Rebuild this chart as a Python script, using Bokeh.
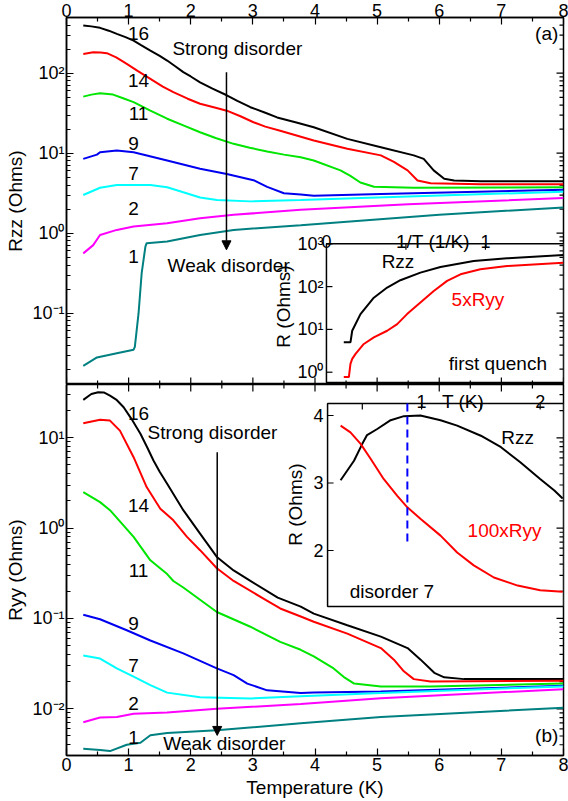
import math
from bokeh.plotting import figure
from bokeh.models import (Range1d, LogScale, LinearScale, FixedTicker, Arrow,
                          NormalHead, BoxAnnotation)
from bokeh.layouts import column
from bokeh.embed import file_html
from bokeh.resources import INLINE
from bokeh.core.properties import value

FONT = "Liberation Sans"

# ---------------- data: panel (a) Rzz ----------------
T16a = [0.27, 0.40, 0.54, 0.68, 0.81, 0.95, 1.08, 1.20, 1.35, 1.50, 1.62, 1.75, 1.88, 2.00, 2.15, 2.35, 2.58, 2.75, 2.96, 3.20, 3.39, 3.70, 3.98, 4.52, 5.06, 5.59, 5.75, 5.91, 6.08, 6.24, 6.67, 8.0]
R16a = [395, 385, 369, 340, 310, 283, 256, 225, 192, 165, 144, 122, 103, 91, 77, 64, 53, 45, 37.6, 32, 28, 24.2, 21.1, 15.1, 11.9, 9.4, 8.5, 6.1, 4.8, 4.57, 4.47, 4.45]
T14a = [0.27, 0.43, 0.55, 0.65, 0.80, 0.97, 1.15, 1.35, 1.55, 1.72, 1.95, 2.15, 2.40, 2.58, 2.80, 3.01, 3.20, 3.44, 3.98, 4.52, 5.06, 5.27, 5.49, 5.65, 5.86, 6.67, 8.0]
R14a = [174, 183, 182, 178, 158, 131, 106, 85, 68, 58, 48, 41.5, 37, 34, 29, 24.4, 21.5, 19.1, 14.4, 11.4, 9.4, 7.8, 6.1, 4.55, 4.2, 4.1, 4.1]
T11a = [0.27, 0.40, 0.54, 0.75, 0.90, 1.08, 1.35, 1.62, 1.90, 2.15, 2.40, 2.69, 2.95, 3.23, 3.50, 3.77, 3.98, 4.41, 4.57, 4.73, 4.95, 5.59, 8.0]
R11a = [51, 54, 56, 54, 49, 43.5, 34, 27, 22, 18.3, 15.5, 13.1, 11.7, 10.5, 9.6, 8.9, 8.1, 6.1, 5.2, 4.3, 3.8, 3.7, 3.75]
T9a = [0.27, 0.49, 0.54, 0.81, 1.08, 1.62, 2.15, 2.58, 3.01, 3.23, 3.50, 3.77, 3.98, 5.06, 8.0]
R9a = [8.5, 9.6, 10.3, 10.8, 10.3, 8.1, 6.4, 5.5, 4.6, 3.8, 3.16, 3.05, 2.94, 3.1, 3.5]
T7a = [0.27, 0.54, 0.81, 1.08, 1.35, 1.62, 1.88, 2.15, 2.42, 2.96, 3.77, 5.0, 8.0]
R7a = [3.0, 3.7, 4.0, 4.0, 4.0, 3.76, 3.25, 2.8, 2.6, 2.5, 2.6, 2.8, 3.3]
T2a = [0.27, 0.43, 0.54, 0.81, 1.08, 1.62, 2.15, 2.69, 3.77, 5.5, 8.0]
R2a = [0.56, 0.71, 0.95, 1.1, 1.21, 1.33, 1.54, 1.7, 1.96, 2.3, 2.75]
T1a = [0.27, 0.49, 0.81, 1.08, 1.10, 1.16, 1.21, 1.27, 1.29, 1.62, 2.15, 2.69, 3.77, 6.0, 8.0]
R1a = [0.022, 0.028, 0.0316, 0.035, 0.038, 0.1, 0.316, 0.68, 0.75, 0.79, 0.95, 1.1, 1.26, 1.7, 2.1]

# ---------------- data: panel (b) Ryy ----------------
T16b = [0.27, 0.40, 0.51, 0.60, 0.70, 0.80, 0.92, 1.05, 1.19, 1.30, 1.40, 1.50, 1.62, 1.88, 2.15, 2.42, 2.69, 2.96, 3.40, 3.77, 3.98, 4.52, 5.06, 5.49, 5.70, 5.92, 6.08, 6.40, 8.0]
R16b = [26.3, 30.5, 31.9, 31.8, 29.3, 26.5, 21.8, 16, 11.1, 7.8, 5.6, 4.2, 3.1, 1.58, 0.87, 0.48, 0.34, 0.26, 0.17, 0.135, 0.113, 0.084, 0.063, 0.047, 0.035, 0.025, 0.0223, 0.0213, 0.0213]
T14b = [0.27, 0.54, 0.70, 0.86, 1.08, 1.29, 1.51, 1.72, 1.94, 2.15, 2.42, 2.69, 3.17, 3.44, 3.77, 3.98, 4.52, 5.06, 5.27, 5.43, 5.59, 5.86, 8.0]
R14b = [14.5, 15.8, 15.5, 12.0, 6.1, 2.85, 1.64, 1.22, 0.80, 0.57, 0.36, 0.26, 0.166, 0.129, 0.105, 0.092, 0.068, 0.047, 0.035, 0.026, 0.0213, 0.020, 0.0205]
T11b = [0.27, 0.54, 0.70, 1.08, 1.35, 1.62, 1.72, 1.88, 2.42, 2.96, 3.44, 3.77, 3.98, 4.30, 4.46, 4.63, 5.06, 5.86, 8.0]
R11b = [2.5, 1.94, 1.58, 0.80, 0.44, 0.31, 0.26, 0.22, 0.118, 0.081, 0.055, 0.045, 0.038, 0.028, 0.0226, 0.019, 0.0176, 0.0176, 0.019]
T9b = [0.27, 0.54, 0.97, 1.35, 1.88, 2.42, 2.69, 2.91, 3.23, 3.77, 3.98, 5.06, 8.0]
R9b = [0.110, 0.098, 0.074, 0.057, 0.041, 0.028, 0.0236, 0.019, 0.016, 0.015, 0.0151, 0.0155, 0.018]
T7b = [0.27, 0.54, 0.81, 1.08, 1.35, 1.62, 2.15, 2.96, 3.77, 5.06, 8.0]
R7b = [0.039, 0.036, 0.028, 0.0227, 0.0183, 0.0151, 0.0134, 0.013, 0.0138, 0.015, 0.0177]
T2b = [0.27, 0.54, 0.81, 1.08, 1.62, 2.42, 3.77, 5.06, 8.0]
R2b = [0.0071, 0.0080, 0.0081, 0.0088, 0.0091, 0.0100, 0.0113, 0.0131, 0.0165]
T1b = [0.27, 0.54, 0.70, 0.97, 1.19, 1.35, 1.62, 2.42, 3.77, 5.06, 8.0]
R1b = [0.0036, 0.0035, 0.0034, 0.0040, 0.0042, 0.0051, 0.0054, 0.0058, 0.0069, 0.0081, 0.0103]

# ---------------- inset (a): first quench vs 1/T ----------------
invT_zz = [0.109, 0.151, 0.162, 0.214, 0.298, 0.382, 0.465, 0.591, 0.717, 0.926, 1.136, 1.49]
Rzz_fq = [5.0, 5.0, 9.3, 22.8, 55, 95, 141, 212, 287, 396, 457, 546]
invT_yy = [0.109, 0.141, 0.151, 0.162, 0.183, 0.235, 0.298, 0.382, 0.445, 0.507, 0.591, 0.675, 0.759, 0.843, 0.968, 1.136, 1.49]
Ryy5_fq = [0.77, 0.77, 1.57, 2.05, 2.68, 4.57, 6.5, 9.3, 13.3, 22.8, 42.5, 79, 136, 194, 254, 303, 361]

# ---------------- inset (b): disorder 7 ----------------
T_zz7 = [0.317, 0.43, 0.50, 0.54, 0.626, 0.739, 0.851, 0.99, 1.16, 1.30, 1.50, 1.67, 1.83, 2.00, 2.12, 2.19]
Rzz7 = [3.04, 3.33, 3.58, 3.71, 3.80, 3.93, 3.99, 4.0, 3.93, 3.85, 3.70, 3.53, 3.31, 3.06, 2.89, 2.77]
T_yy7 = [0.317, 0.40, 0.486, 0.57, 0.68, 0.795, 0.88, 0.99, 1.16, 1.30, 1.44, 1.61, 1.81, 2.00, 2.19]
Ryy100_7 = [3.85, 3.75, 3.58, 3.36, 3.06, 2.81, 2.64, 2.47, 2.22, 1.97, 1.78, 1.60, 1.48, 1.41, 1.39]
T_mark = 0.88

labels = ["16", "14", "11", "9", "7", "2", "1"]
colors = ["black", "#ff0000", "#00e600", "#0000f0", "#00ffff", "#ff00ff", "#008080"]

x_ticks = [0, 1, 2, 3, 4, 5, 6, 7, 8]
x_minor = [0.5 + i for i in range(8)]
sup = {-3: "⁻³", -2: "⁻²", -1: "⁻¹", 0: "⁰", 1: "¹", 2: "²", 3: "³"}


def log_major(exps):
    return [10.0 ** e for e in exps]


def log_minor(exps):
    return [k * 10.0 ** e for e in range(exps[0] - 1, exps[-1] + 1) for k in range(2, 10)]


def style_axis(ax):
    ax.axis_line_width = 1.5
    ax.axis_line_color = "black"
    ax.major_tick_in = 7
    ax.major_tick_out = 0
    ax.minor_tick_in = 4
    ax.minor_tick_out = 0
    ax.major_tick_line_width = 1.2
    ax.minor_tick_line_width = 1.2
    ax.major_label_text_font = FONT
    ax.major_label_text_font_size = "18px"
    ax.major_label_text_color = "black"
    ax.major_label_standoff = 2
    ax.axis_label_text_font = FONT
    ax.axis_label_text_font_style = "normal"
    ax.axis_label_text_font_size = "19px"
    ax.axis_label_text_color = "black"
    ax.axis_label_standoff = 3


def txt(p, x, y, s, color="black", align="center", baseline="middle", angle=0.0,
        rn="default", xo=0, yo=0, size="19px"):
    p.text(x=[x], y=[y], text=[s], text_font=value(FONT), text_font_size=size,
           text_color=color, text_align=align, text_baseline=baseline, angle=angle,
           x_offset=xo, y_offset=yo, x_range_name=rn, y_range_name=rn)


def ticks(p, xs, ys, angle, rn="default", length=6):
    p.ray(x=xs, y=ys, length=length, length_units="screen", angle=angle,
          line_color="black", line_width=1.2, x_range_name=rn, y_range_name=rn)


def edge_ticks(p, ymaj, ymin_, ylo, yhi, top_edge):
    ticks(p, [8] * len(ymaj), ymaj, math.pi, length=7)
    ticks(p, [8] * len(ymin_), ymin_, math.pi, length=4)
    if top_edge:
        ticks(p, x_ticks, [yhi] * len(x_ticks), -math.pi / 2, length=7)
        ticks(p, x_minor, [yhi] * len(x_minor), -math.pi / 2, length=4)
    else:
        ticks(p, x_ticks, [ylo] * len(x_ticks), math.pi / 2, length=7)
        ticks(p, x_minor, [ylo] * len(x_minor), math.pi / 2, length=4)


# ================= panel (a) =================
Y1LO, Y1HI = 0.01285, 497
p1 = figure(width=568, height=384, x_range=Range1d(0, 8), y_range=Range1d(Y1LO, Y1HI),
            y_axis_type="log", x_axis_location="above", output_backend="svg",
            toolbar_location=None, min_border_left=66, min_border_right=5,
            min_border_top=17, min_border_bottom=0)
p1.outline_line_color = "black"
p1.outline_line_width = 1.5
p1.grid.visible = False
p1.xaxis.ticker = FixedTicker(ticks=x_ticks, minor_ticks=x_minor)
p1.yaxis.ticker = FixedTicker(ticks=log_major([-1, 0, 1, 2]), minor_ticks=log_minor([-1, 0, 1, 2]))
p1.yaxis.major_label_overrides = {10.0 ** e: "10" + sup[e] for e in [-1, 0, 1, 2]}
p1.yaxis.axis_label = "Rzz (Ohms)"
for ax in p1.xaxis:
    style_axis(ax)
    ax.major_label_standoff = 1
for ax in p1.yaxis:
    style_axis(ax)
edge_ticks(p1, log_major([-1, 0, 1, 2]), log_minor([-1, 0, 1, 2]), Y1LO, Y1HI, top_edge=False)

for T, R, c in zip([T16a, T14a, T11a, T9a, T7a, T2a, T1a],
                   [R16a, R14a, R11a, R9a, R7a, R2a, R1a], colors):
    p1.line(T, R, line_color=c, line_width=2)

lab_a = [(1.16, 313), (1.16, 81), (1.16, 31.3), (1.08, 13.2), (1.08, 5.57), (1.08, 2.01), (1.08, 0.506)]
for (x, y), s in zip(lab_a, labels):
    txt(p1, x, y, s)
txt(p1, 2.75, 204, "Strong disorder")
txt(p1, 2.61, 0.40, "Weak disorder")
txt(p1, 7.73, 313, "(a)")
p1.add_layout(Arrow(end=NormalHead(size=9, fill_color="black", line_color="black"),
                    x_start=2.575, y_start=103, x_end=2.575, y_end=0.62,
                    line_width=1.5, line_color="black"))

# inset (a)
p1.extra_x_ranges = {"ia": Range1d(-1.635, 1.491)}
p1.extra_y_ranges = {"ia": Range1d(10 ** -0.287, 10 ** 8.287)}
p1.extra_x_scales = {"ia": LinearScale()}
p1.extra_y_scales = {"ia": LogScale()}
p1.add_layout(BoxAnnotation(left=0, right=1.491, bottom=0.575, top=1000,
                            x_range_name="ia", y_range_name="ia", fill_color="white",
                            fill_alpha=1.0, line_color="black", line_alpha=1.0,
                            line_width=1.5, level="underlay"))
p1.line(invT_zz, Rzz_fq, line_color="black", line_width=2, x_range_name="ia", y_range_name="ia")
p1.line(invT_yy, Ryy5_fq, line_color="#ff0000", line_width=2, x_range_name="ia", y_range_name="ia")
ia_dec = [1, 10, 100, 1000]
ticks(p1, [0] * 4, ia_dec, 0.0, "ia")
ticks(p1, [0.5, 1.0], [1000, 1000], -math.pi / 2, "ia")
for e, v in zip([0, 1, 2, 3], ia_dec):
    txt(p1, 0, v, "10" + sup[e], align="right", xo=-3, size="18px", rn="ia")
txt(p1, 0, 1000, "0", baseline="alphabetic", yo=-2, size="18px", rn="ia")
txt(p1, 1.0, 1000, "1", baseline="alphabetic", yo=-2, size="18px", rn="ia")
txt(p1, 0.67, 1000, "1/T (1/K)", baseline="alphabetic", yo=-2, rn="ia")
txt(p1, -0.27, 34.3, "R (Ohms)", angle=math.pi / 2, rn="ia")
txt(p1, 0.45, 386, "Rzz", rn="ia")
txt(p1, 0.953, 50, "5xRyy", color="#ff0000", rn="ia")
txt(p1, 1.078, 1.62, "first quench", rn="ia")

# ================= panel (b) =================
Y2LO, Y2HI = 0.00304, 38.9
p2 = figure(width=568, height=417, x_range=Range1d(0, 8), y_range=Range1d(Y2LO, Y2HI),
            y_axis_type="log", output_backend="svg", toolbar_location=None,
            min_border_left=66, min_border_right=5, min_border_top=0, min_border_bottom=46)
p2.outline_line_color = "black"
p2.outline_line_width = 1.5
p2.grid.visible = False
p2.xaxis.ticker = FixedTicker(ticks=x_ticks, minor_ticks=x_minor)
p2.yaxis.ticker = FixedTicker(ticks=log_major([-2, -1, 0, 1]), minor_ticks=log_minor([-2, -1, 0, 1]))
p2.yaxis.major_label_overrides = {10.0 ** e: "10" + sup[e] for e in [-2, -1, 0, 1]}
p2.yaxis.axis_label = "Ryy (Ohms)"
p2.xaxis.axis_label = "Temperature (K)"
for ax in p2.xaxis:
    style_axis(ax)
for ax in p2.yaxis:
    style_axis(ax)
edge_ticks(p2, log_major([-2, -1, 0, 1]), log_minor([-2, -1, 0, 1]), Y2LO, Y2HI, top_edge=True)

for T, R, c in zip([T16b, T14b, T11b, T9b, T7b, T2b, T1b],
                   [R16b, R14b, R11b, R9b, R7b, R2b, R1b], colors):
    p2.line(T, R, line_color=c, line_width=2)

lab_b = [(1.16, 18.6), (1.16, 1.78), (1.16, 0.34), (1.08, 0.088), (1.08, 0.0301), (1.08, 0.01143), (1.08, 0.00481)]
for (x, y), s in zip(lab_b, labels):
    txt(p2, x, y, s)
txt(p2, 2.35, 11.5, "Strong disorder")
txt(p2, 2.54, 0.00416, "Weak disorder")
txt(p2, 7.73, 0.00512, "(b)")
p2.add_layout(Arrow(end=NormalHead(size=9, fill_color="black", line_color="black"),
                    x_start=2.426, y_start=6.9, x_end=2.426, y_end=0.00507,
                    line_width=1.5, line_color="black"))

# inset (b)
p2.extra_x_ranges = {"ib": Range1d(-1.995, 2.197)}
p2.extra_y_ranges = {"ib": Range1d(-1.037, 4.459)}
p2.extra_x_scales = {"ib": LinearScale()}
p2.extra_y_scales = {"ib": LinearScale()}
ib_l, ib_r, ib_b, ib_t = 0.207, 2.197, 1.170, 4.178
p2.add_layout(BoxAnnotation(left=ib_l, right=ib_r, bottom=ib_b, top=ib_t,
                            x_range_name="ib", y_range_name="ib", fill_color="white",
                            fill_alpha=1.0, line_color="black", line_alpha=1.0,
                            line_width=1.5, level="underlay"))
p2.line(T_zz7, Rzz7, line_color="black", line_width=2, x_range_name="ib", y_range_name="ib")
p2.line(T_yy7, Ryy100_7, line_color="#ff0000", line_width=2, x_range_name="ib", y_range_name="ib")
p2.line([T_mark, T_mark], [ib_t, 2.1], line_color="#0000ff", line_width=2,
        line_dash="8 5", x_range_name="ib", y_range_name="ib")
ticks(p2, [ib_l] * 3, [2, 3, 4], 0.0, "ib")
ticks(p2, [0.5, 1.0, 1.5, 2.0], [ib_t] * 4, -math.pi / 2, "ib")
for v in [2, 3, 4]:
    txt(p2, ib_l, v, str(v), align="right", xo=-4, size="18px", rn="ib")
txt(p2, 1.0, ib_t, "1", baseline="alphabetic", yo=-2, size="18px", rn="ib")
txt(p2, 2.0, ib_t, "2", baseline="alphabetic", yo=-2, size="18px", rn="ib")
txt(p2, 1.35, ib_t, "T (K)", baseline="alphabetic", yo=-2, rn="ib")
txt(p2, -0.062, 2.68, "R (Ohms)", angle=math.pi / 2, rn="ib")
txt(p2, 1.81, 3.67, "Rzz", rn="ib")
txt(p2, 1.70, 2.30, "100xRyy", color="#ff0000", rn="ib")
txt(p2, 0.75, 1.39, "disorder 7", rn="ib")

layout = column(p1, p2, spacing=0)
open("out.html", "w").write(file_html(layout, INLINE))
